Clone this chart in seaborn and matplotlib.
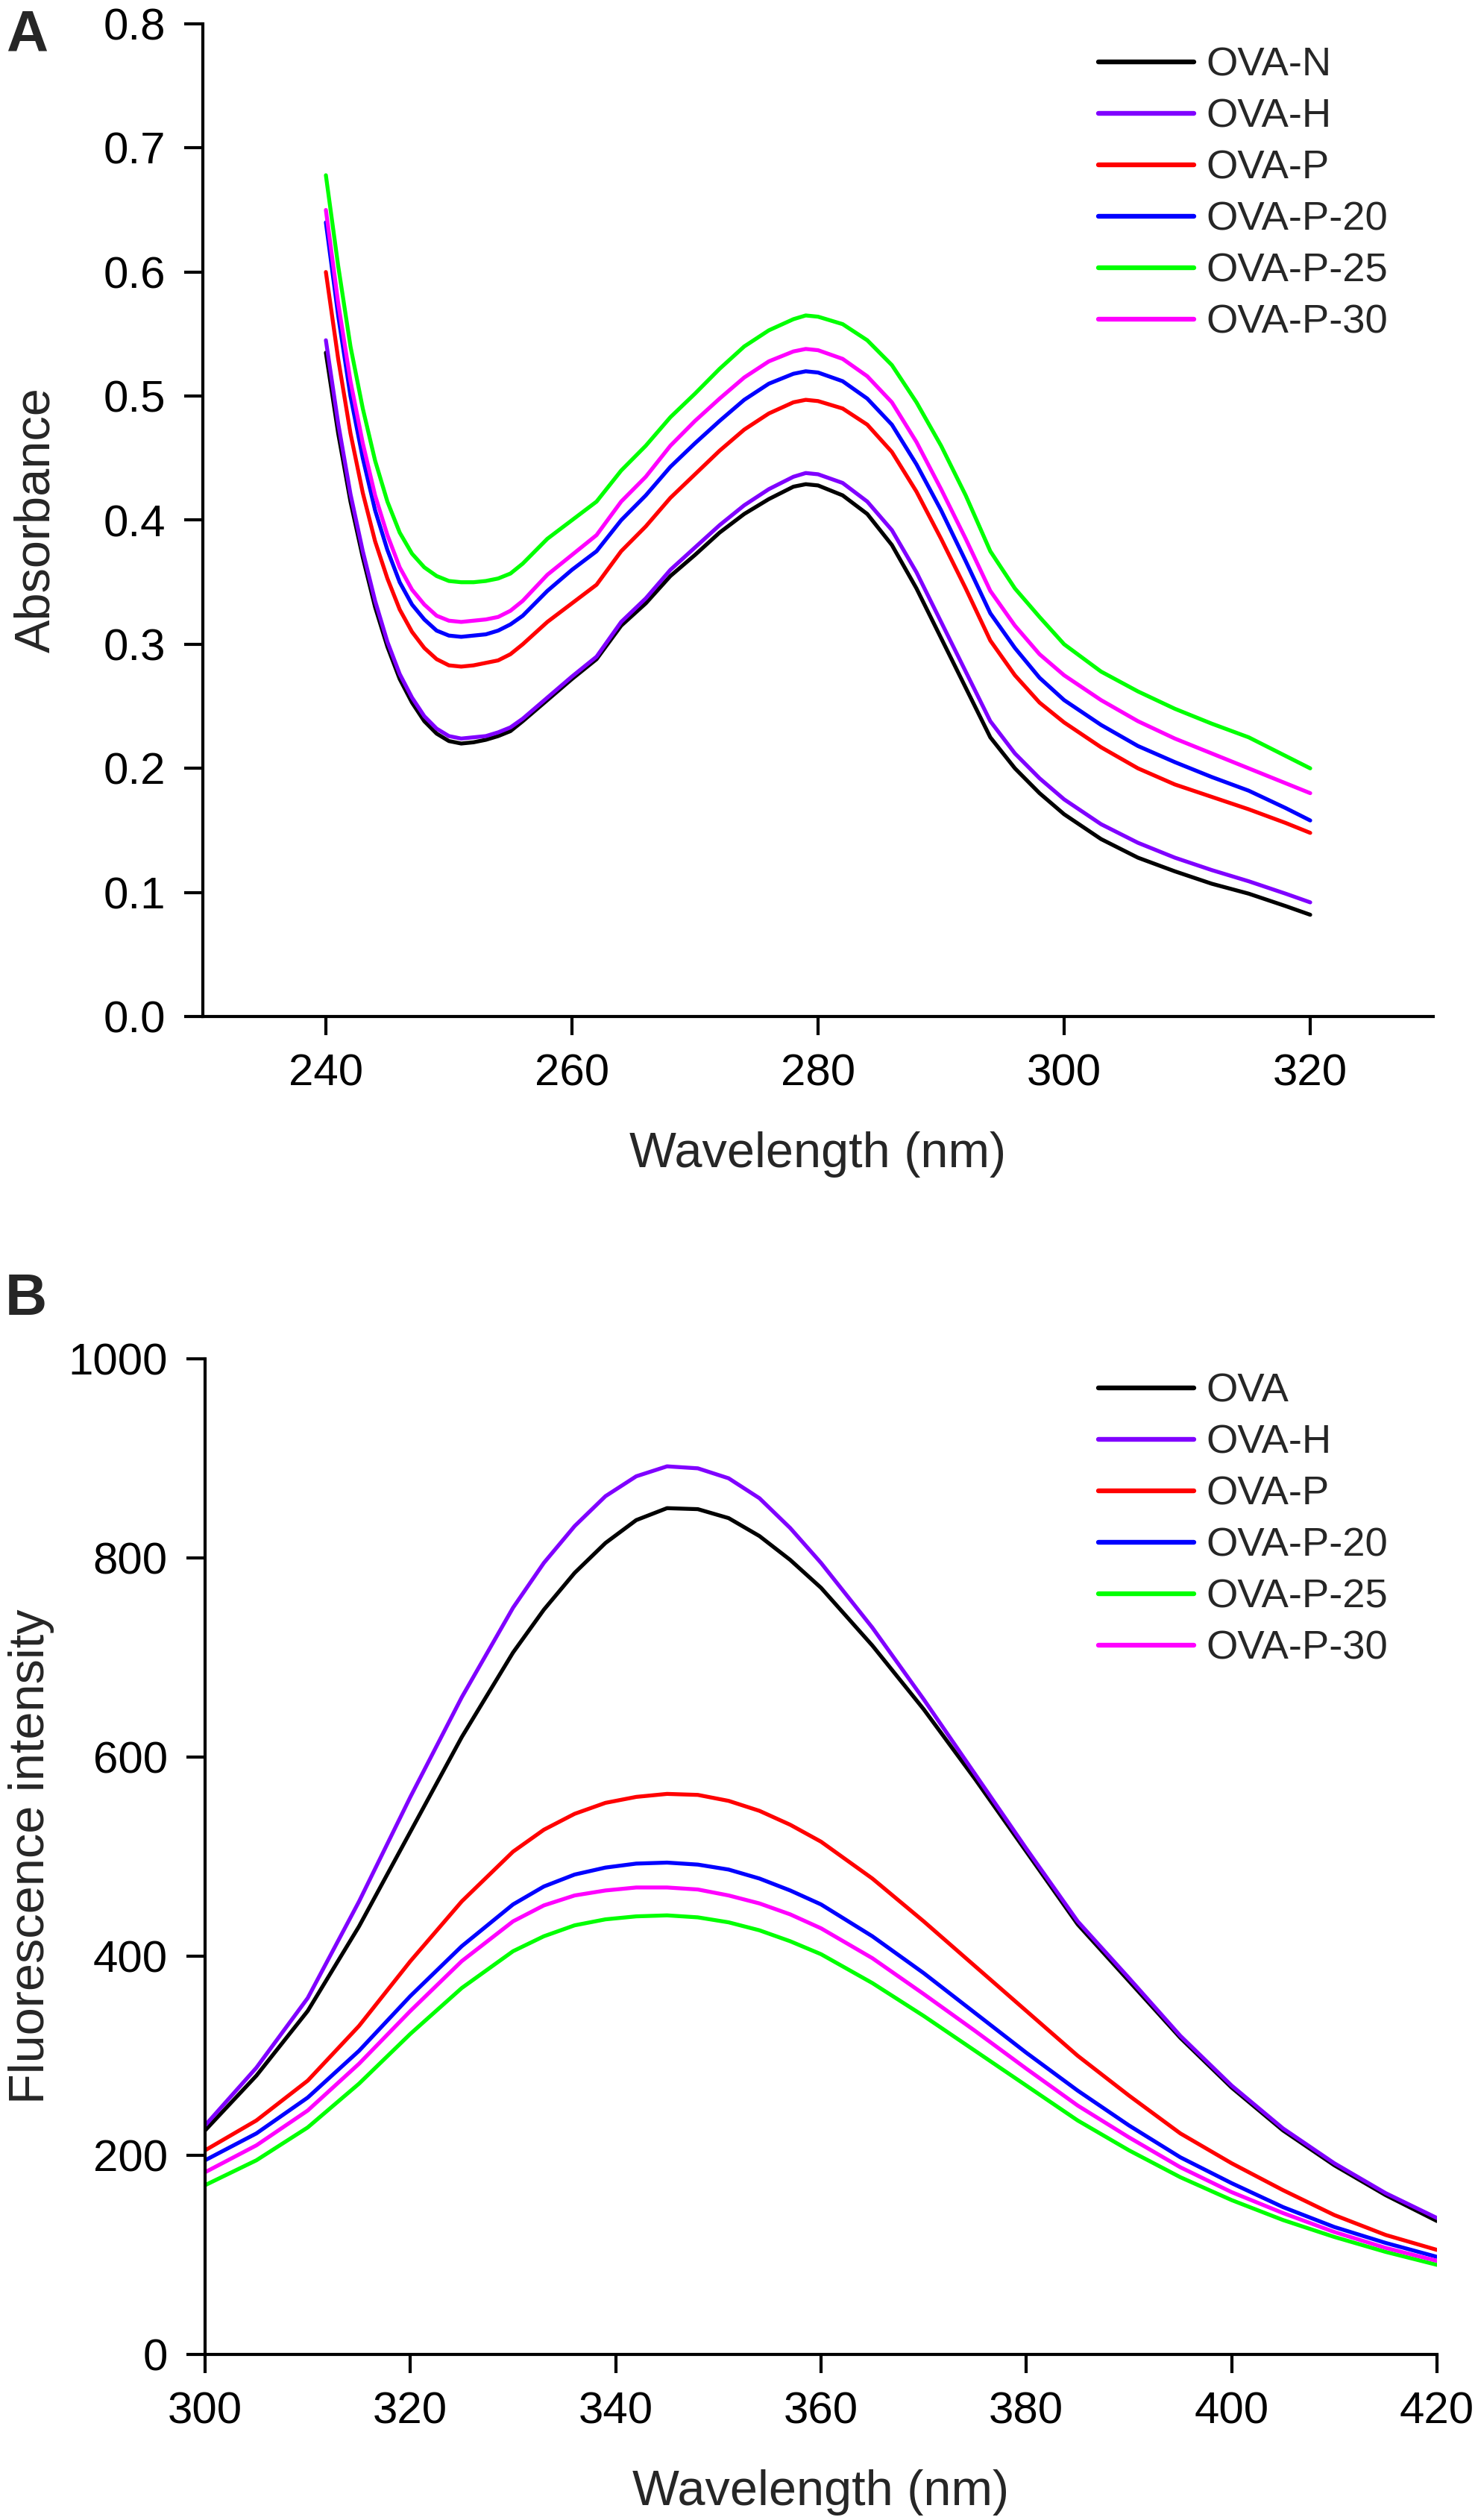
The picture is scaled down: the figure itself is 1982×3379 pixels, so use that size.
import numpy as np
import pandas as pd
import matplotlib
matplotlib.use("Agg")
import matplotlib.pyplot as plt
from matplotlib.ticker import FormatStrFormatter
import seaborn as sns

# ---- panel A: UV absorbance ----
wl_a = [240, 241, 242, 243, 244, 245, 246, 247, 248, 249, 250, 251, 252, 253, 254,
        255, 256, 258, 260, 262, 264, 266, 268, 270, 272, 274, 276, 278, 279, 280,
        282, 284, 286, 288, 290, 292, 294, 296, 298, 300, 303, 306, 309, 312, 315,
        318, 320]
abs_n = [.535, .470, .415, .370, .330, .298, .272, .253, .238, .228, .222, .220, .221, .223, .226,
         .230, .238, .255, .272, .288, .315, .333, .355, .372, .390, .405, .417, .427, .429, .428,
         .420, .405, .380, .345, .305, .265, .225, .200, .180, .163, .143, .128, .117, .107, .099,
         .089, .082]
abs_h = [.545, .478, .421, .375, .335, .302, .276, .257, .242, .232, .226, .224, .225, .226, .229,
         .233, .240, .257, .274, .290, .318, .337, .360, .378, .396, .412, .425, .435, .438, .437,
         .430, .415, .392, .358, .318, .278, .238, .212, .192, .175, .155, .140, .128, .118, .109,
         .099, .092]
abs_p = [.600, .530, .470, .422, .383, .353, .328, .310, .297, .288, .283, .282, .283, .285, .287,
         .292, .300, .318, .333, .348, .375, .395, .418, .437, .456, .473, .486, .495, .497, .496,
         .490, .477, .455, .423, .385, .345, .303, .275, .253, .237, .217, .200, .187, .177, .167,
         .156, .148]
abs_p20 = [.640, .565, .500, .450, .408, .376, .350, .332, .320, .311, .307, .306, .307, .308, .311,
           .316, .323, .343, .360, .375, .400, .420, .443, .462, .480, .497, .510, .518, .520, .519,
           .512, .498, .477, .445, .408, .367, .325, .297, .273, .255, .235, .218, .205, .193, .182,
           .168, .158]
abs_p25 = [.678, .605, .540, .490, .448, .415, .390, .373, .362, .355, .351, .350, .350, .351, .353,
           .357, .365, .385, .400, .415, .440, .460, .483, .502, .522, .540, .553, .562, .565, .564,
           .558, .545, .525, .495, .460, .420, .375, .345, .322, .300, .278, .262, .248, .236, .225,
           .210, .200]
abs_p30 = [.650, .575, .512, .462, .420, .388, .362, .344, .332, .323, .319, .318, .319, .320, .322,
           .327, .335, .356, .372, .388, .415, .435, .460, .480, .498, .515, .528, .536, .538, .537,
           .530, .516, .495, .463, .425, .385, .343, .315, .292, .275, .255, .238, .224, .212, .200,
           .188, .180]
labels_a = ["OVA-N", "OVA-H", "OVA-P", "OVA-P-20", "OVA-P-25", "OVA-P-30"]

# ---- panel B: fluorescence ----
wl_b = [300, 305, 310, 315, 320, 325, 330, 333, 336, 339, 342, 345, 348, 351, 354,
        357, 360, 365, 370, 375, 380, 385, 390, 395, 400, 405, 410, 415, 420]
fl_ova = [225, 280, 345, 430, 525, 620, 705, 748, 785, 815, 838, 850, 849, 840, 822,
          798, 770, 712, 648, 578, 505, 432, 375, 318, 268, 225, 190, 160, 134]
fl_h = [230, 288, 358, 455, 560, 660, 750, 795, 832, 862, 882, 892, 890, 880, 860,
        830, 795, 730, 658, 583, 508, 435, 378, 320, 270, 227, 192, 162, 137]
fl_p = [205, 235, 275, 330, 395, 455, 505, 527, 543, 554, 560, 563, 562, 556, 546,
        532, 515, 478, 435, 390, 345, 300, 260, 222, 192, 165, 140, 120, 105]
fl_p20 = [195, 222, 258, 305, 360, 410, 452, 470, 482, 489, 493, 494, 492, 487, 478,
          466, 452, 420, 383, 343, 303, 265, 230, 198, 172, 148, 128, 112, 98]
fl_p25 = [170, 195, 228, 272, 322, 368, 405, 420, 431, 437, 440, 441, 439, 434, 426,
          415, 402, 373, 340, 305, 270, 235, 205, 178, 155, 135, 118, 103, 90]
fl_p30 = [183, 210, 245, 292, 345, 395, 435, 451, 461, 466, 469, 469, 467, 461, 453,
          442, 428, 398, 362, 325, 287, 250, 218, 188, 163, 142, 123, 107, 94]
labels_b = ["OVA", "OVA-H", "OVA-P", "OVA-P-20", "OVA-P-25", "OVA-P-30"]

colors = ["#000000", "#8000FF", "#FF0000", "#0000FF", "#00FF00", "#FF00FF"]


def long_frame(wl, series, names, ycol):
    parts = []
    for name, vals in zip(names, series):
        parts.append(pd.DataFrame({"wl": wl, ycol: vals, "sample": name}))
    return pd.concat(parts, ignore_index=True)


df_a = long_frame(wl_a, [abs_n, abs_h, abs_p, abs_p20, abs_p25, abs_p30], labels_a, "absorbance")
df_b = long_frame(wl_b, [fl_ova, fl_h, fl_p, fl_p20, fl_p25, fl_p30], labels_b, "intensity")

sns.set_style("ticks")
plt.rcParams["font.family"] = ["Liberation Sans", "DejaVu Sans"]

W, H = 1983, 3379
DPI = 200
fig = plt.figure(figsize=(W / DPI, H / DPI), dpi=DPI)
ax_a = fig.add_axes([272 / W, 1 - 1363 / H, 1650 / W, 1331 / H])
ax_b = fig.add_axes([275 / W, 1 - 3157 / H, 1652 / W, 1335 / H])

lw = 1.9
tick_fs = 21.6
label_fs = 24
legend_fs = 19.6


def style_axes(ax):
    sns.despine(ax=ax)
    for side in ("left", "bottom"):
        ax.spines[side].set_linewidth(1.5)
        ax.spines[side].set_color("black")
    ax.tick_params(direction="out", length=9, width=1.5, pad=9,
                   labelsize=tick_fs, colors="black")


def add_legend(ax, anchor):
    handles, labels = ax.get_legend_handles_labels()
    for h in handles:
        h.set_linewidth(lw + 0.4)
    ax.legend(handles, labels, loc="upper left", bbox_to_anchor=anchor,
              frameon=False, fontsize=legend_fs, handlelength=2.35,
              handletextpad=0.3, labelspacing=0.35, borderpad=0,
              borderaxespad=0)


# panel A
sns.lineplot(data=df_a, x="wl", y="absorbance", hue="sample", hue_order=labels_a,
             palette=colors, linewidth=lw, estimator=None, ax=ax_a)
ax_a.set_xlim(230, 330)
ax_a.set_ylim(0, 0.8)
ax_a.set_xticks(np.arange(240, 321, 20))
ax_a.set_yticks(np.arange(0, 0.81, 0.1))
ax_a.yaxis.set_major_formatter(FormatStrFormatter("%.1f"))
style_axes(ax_a)
ax_a.set_xlabel("Wavelength (nm)", fontsize=label_fs)
ax_a.set_ylabel("Absorbance", fontsize=label_fs)
ax_a.xaxis.set_label_coords(0.5, -0.1157)
ax_a.yaxis.set_label_coords(-0.116, 0.5)
add_legend(ax_a, (0.728, 0.977))

# panel B
sns.lineplot(data=df_b, x="wl", y="intensity", hue="sample", hue_order=labels_b,
             palette=colors, linewidth=lw, estimator=None, ax=ax_b)
ax_b.set_xlim(300, 420)
ax_b.set_ylim(0, 1000)
ax_b.set_xticks(np.arange(300, 421, 20))
ax_b.set_yticks(np.arange(0, 1001, 200))
style_axes(ax_b)
ax_b.set_xlabel("Wavelength (nm)", fontsize=label_fs)
ax_b.set_ylabel("Fluorescence intensity", fontsize=label_fs)
ax_b.xaxis.set_label_coords(0.5, -0.1154)
ax_b.yaxis.set_label_coords(-0.122, 0.5)
add_legend(ax_b, (0.725, 0.986))

fig.text(8 / W, 1 - 68 / H, "A", fontsize=28, fontweight="bold", ha="left", va="baseline")
fig.text(7 / W, 1 - 1763 / H, "B", fontsize=28, fontweight="bold", ha="left", va="baseline")

fig.savefig("out.png", dpi=DPI, facecolor="white")
